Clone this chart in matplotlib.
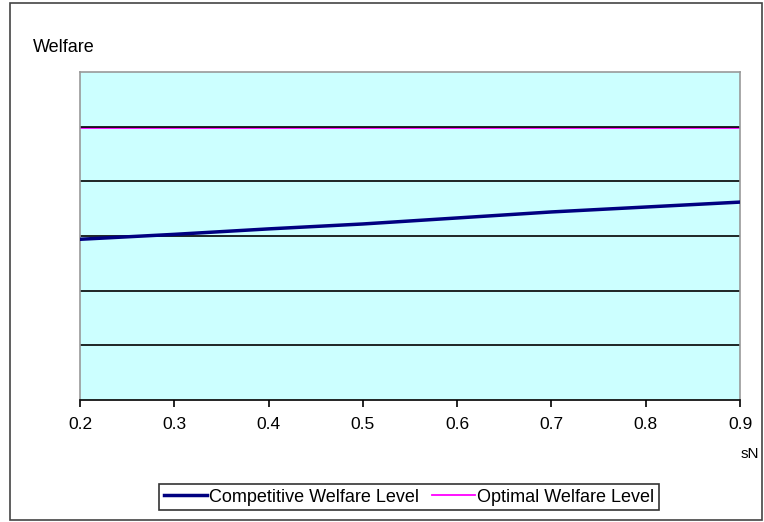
import matplotlib
matplotlib.use('Agg')
import matplotlib.pyplot as plt
from matplotlib.patches import Rectangle

plt.rcParams['font.family'] = ['Liberation Sans', 'DejaVu Sans']

# data (y axis has no labels, arbitrary units)
sN = [0.2, 0.3, 0.4, 0.5, 0.6, 0.7, 0.8, 0.9]
competitive = [2.94, 3.03, 3.13, 3.22, 3.33, 3.44, 3.53, 3.62]
optimal = [5.0, 5.0, 5.0, 5.0, 5.0, 5.0, 5.0, 5.0]
grid_levels = [1, 2, 3, 4, 5]
x_ticks = [0.2, 0.3, 0.4, 0.5, 0.6, 0.7, 0.8, 0.9]

fs = 12.5

fig = plt.figure(figsize=(7.64, 5.22), dpi=100)
ax = fig.add_axes([80 / 764, 1 - 400 / 522, 660 / 764, 328 / 522])
ax.set_facecolor('#ccffff')

for g in grid_levels:
    ax.axhline(g, color='black', lw=1.2, zorder=2)

l1, = ax.plot(sN, competitive, color='#000080', lw=2.5, zorder=3,
              label='Competitive Welfare Level')
# optimal sits just under the top gridline
l2, = ax.plot(sN, [v - 0.02 for v in optimal], color='#ff00ff', lw=1.3, zorder=1,
              label='Optimal Welfare Level')

ax.set_xlim(0.2, 0.9)
ax.set_ylim(0, 6)
ax.set_xticks(x_ticks)
ax.set_xticklabels(['%.1f' % t for t in x_ticks], fontsize=fs)
ax.set_yticks([])
ax.tick_params(axis='x', direction='out', length=5, width=1.2, pad=7)

for s in ['top', 'right', 'left']:
    ax.spines[s].set_color('#999999')
    ax.spines[s].set_linewidth(1.2)
ax.spines['bottom'].set_color('black')
ax.spines['bottom'].set_linewidth(1.2)

fig.text(33 / 764, 1 - 48 / 522, 'Welfare', fontsize=fs + 0.5, va='center', ha='left')
fig.text(750 / 764, 1 - 454 / 522, 'sN', fontsize=fs - 1.5, va='center', ha='center')

leg = fig.legend(handles=[l1, l2], loc='center', bbox_to_anchor=(409 / 764, 1 - 497 / 522),
                 ncol=2, frameon=True, fancybox=False, fontsize=fs + 0.5,
                 handlelength=2.4, handletextpad=0.1, columnspacing=0.7,
                 borderpad=0.25, borderaxespad=0)
leg.get_frame().set_edgecolor('black')
leg.get_frame().set_linewidth(1.2)

fig.patches.append(Rectangle((10 / 764, 1 - 520 / 522), 752 / 764, 517 / 522,
                             transform=fig.transFigure, fill=False,
                             edgecolor='#444444', lw=1.2))

fig.savefig('out.png', dpi=100)
